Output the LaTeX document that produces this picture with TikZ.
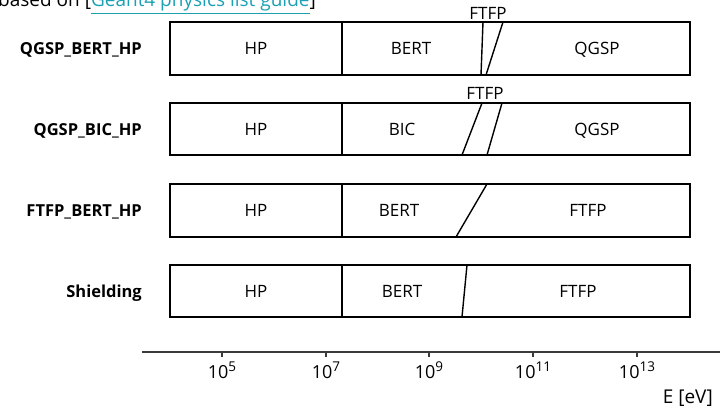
\documentclass[tikz,border=0pt]{standalone}
\usepackage{fontspec}
\setmainfont{Open Sans}
\definecolor{linkteal}{HTML}{1BA1B3}
\definecolor{axisgray}{HTML}{3A3A3A}
\newcommand{\expo}[1]{10\raisebox{0.42em}{\fontsize{13.5}{13.5}\selectfont #1}}
\begin{document}
\begin{tikzpicture}[x=1pt,y=-1pt,
    band/.style={draw=black,line width=1.4pt},
    split/.style={draw=black,line width=1.4pt},
    rowlabel/.style={anchor=base east,font=\fontsize{16.5}{19}\selectfont\bfseries,inner sep=0pt},
    modelname/.style={anchor=base,font=\fontsize{17}{19}\selectfont,inner sep=0pt},
    ticklabel/.style={font=\fontsize{18}{20}\selectfont,inner sep=0pt,anchor=base},
    axisline/.style={draw=axisgray,line width=1.1pt}]
\useasboundingbox (0,0) rectangle (720,411);
\clip (0,0) rectangle (720,411);

% source note at the top
\node[anchor=base east,inner sep=0pt,font=\fontsize{19}{21}\selectfont] (src) at (316,7)
  {based on [{\color{linkteal}\underline{Geant4 physics list guide}}]};

% QGSP_BERT_HP
\node[rowlabel] (l1) at (142,55) {QGSP\_BERT\_HP};
\draw[band] (170,22) rectangle (690,75);
\draw[split] (342,22) -- (342,75);
\draw[split] (483,22) -- (481,75);
\draw[split] (503,22) -- (486,75);
\node[modelname] (r1hp) at (256,55) {HP};
\node[modelname] (r1bert) at (411,55) {BERT};
\node[modelname] (r1qgsp) at (597,55) {QGSP};
\node[modelname] (r1ftfp) at (488,20) {FTFP};

% QGSP_BIC_HP
\node[rowlabel] (l2) at (142,136) {QGSP\_BIC\_HP};
\draw[band] (170,103) rectangle (690,155);
\draw[split] (342,103) -- (342,155);
\draw[split] (482,103) -- (462,155);
\draw[split] (502,103) -- (487,155);
\node[modelname] (r2hp) at (256,136) {HP};
\node[modelname] (r2bic) at (402,136) {BIC};
\node[modelname] (r2qgsp) at (597,136) {QGSP};
\node[modelname] (r2ftfp) at (485,100) {FTFP};

% FTFP_BERT_HP
\node[rowlabel] (l3) at (142,217) {FTFP\_BERT\_HP};
\draw[band] (170,184) rectangle (690,237);
\draw[split] (342,184) -- (342,237);
\draw[split] (487,184) -- (456,237);
\node[modelname] (r3hp) at (256,217) {HP};
\node[modelname] (r3bert) at (399,217) {BERT};
\node[modelname] (r3ftfp) at (588,217) {FTFP};

% Shielding
\node[rowlabel] (l4) at (142,298) {Shielding};
\draw[band] (170,265) rectangle (690,317);
\draw[split] (342,265) -- (342,317);
\draw[split] (467,265) -- (462,317);
\node[modelname] (r4hp) at (256,298) {HP};
\node[modelname] (r4bert) at (402,298) {BERT};
\node[modelname] (r4ftfp) at (578,298) {FTFP};

% energy axis
\draw[axisline] (142,352) -- (720,352);
\foreach \xx/\ee in {222/5,326/7,429/9,533/11,637/13}{
  \draw[axisline] (\xx,352) -- (\xx,357);
  \node[ticklabel] at (\xx,379) {\expo{\ee}};
}
\node[anchor=base east,inner sep=0pt,font=\fontsize{19}{21}\selectfont] (eunit) at (713,403) {E [eV]};
\end{tikzpicture}
\end{document}
